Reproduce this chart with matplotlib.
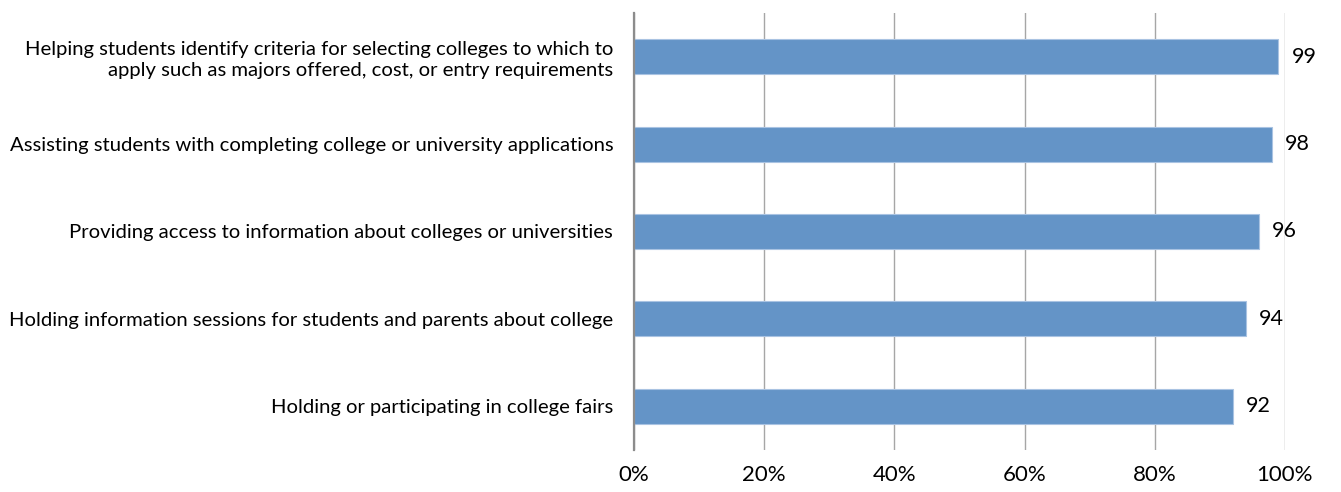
import matplotlib
matplotlib.use("Agg")
import matplotlib.pyplot as plt
from matplotlib.ticker import FixedLocator, FuncFormatter

categories = [
    "Helping students identify criteria for selecting colleges to which to\napply such as majors offered, cost, or entry requirements",
    "Assisting students with completing college or university applications",
    "Providing access to information about colleges or universities",
    "Holding information sessions for students and parents about college",
    "Holding or participating in college fairs",
]
values = [99, 98, 96, 94, 92]
xticks = [0, 20, 40, 60, 80, 100]

plt.rcParams['font.family'] = ['Lato', 'DejaVu Sans']

fig = plt.figure(figsize=(13.41, 4.92), dpi=100)
ax = fig.add_axes([0.4728, 0.0854, 0.4854, 0.8882])

ypos = list(range(len(categories)))
ax.barh(ypos, values, height=0.4, color="#6494c7", edgecolor="#a9c3e2",
        linewidth=0.8, zorder=3)
for y, v in zip(ypos, values):
    ax.text(v + 2.0, y, f"{v}", va="center", ha="left", fontsize=15.5, color="black")

ax.set_ylim(len(categories) - 0.5, -0.5)
ax.set_xlim(0, 100)
ax.set_yticks(ypos)
ax.set_yticklabels(categories, fontsize=14.6, linespacing=1.25)
ax.xaxis.set_major_locator(FixedLocator(xticks))
ax.xaxis.set_major_formatter(FuncFormatter(lambda x, p: f"{int(x)}%"))
ax.tick_params(axis="x", length=0, labelsize=16, pad=11)
ax.tick_params(axis="y", length=0, pad=15)
ax.grid(axis="x", color="#a6a6a6", linewidth=1.0, zorder=0)
for s in ["top", "right", "bottom"]:
    ax.spines[s].set_visible(False)
ax.spines["left"].set_color("#8c8c8c")
ax.spines["left"].set_linewidth(1.6)
ax.spines["left"].set_zorder(4)

fig.savefig("out.png", dpi=100)
